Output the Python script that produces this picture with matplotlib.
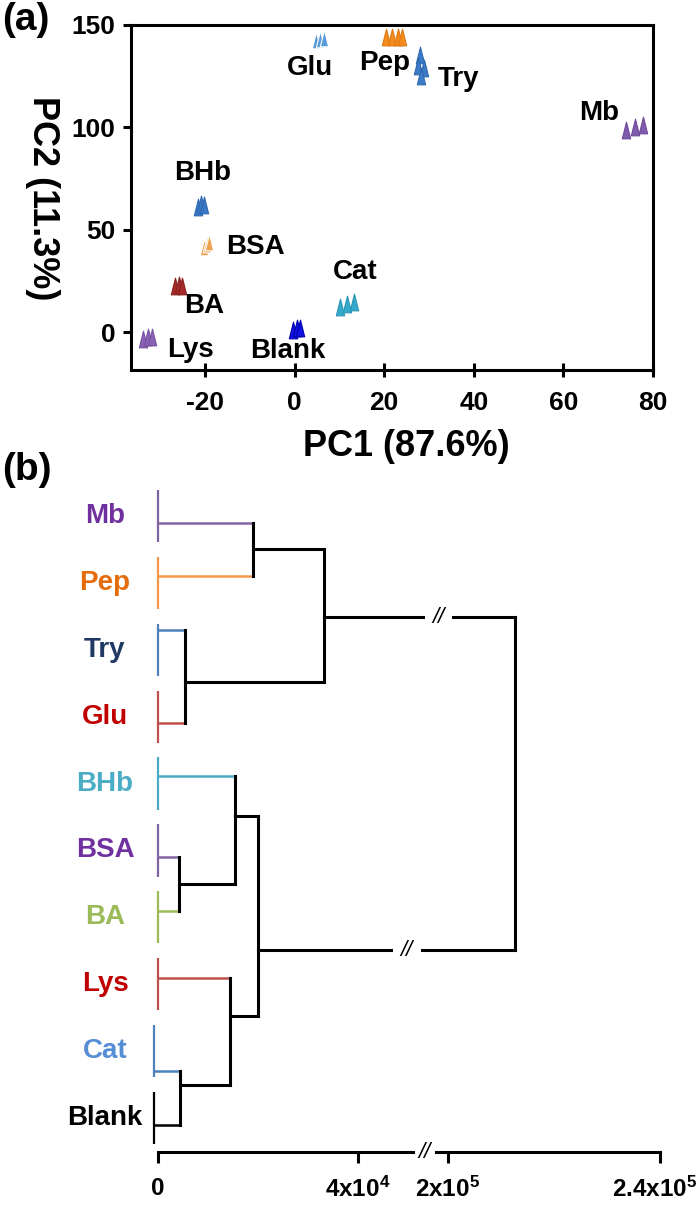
import matplotlib
matplotlib.use("Agg")
import matplotlib.pyplot as plt
import matplotlib.transforms as mtransforms
from matplotlib.path import Path

plt.rcParams['font.family'] = ['Liberation Sans', 'DejaVu Sans']
plt.rcParams['font.weight'] = 'bold'
plt.rcParams['mathtext.fontset'] = 'custom'
plt.rcParams['mathtext.rm'] = 'Liberation Sans:bold'
plt.rcParams['mathtext.bf'] = 'Liberation Sans:bold'
plt.rcParams['mathtext.default'] = 'bf'
plt.rcParams['axes.unicode_minus'] = False

# ---- (a) PCA scores, three replicates per protein
pca_groups = ['Glu', 'Pep', 'Try', 'Mb', 'BHb', 'BSA', 'BA', 'Lys', 'Blank', 'Cat']
pc1 = [[4.7, 5.6, 6.5],
       [20.5, 21.7, 23.0, 24.0],
       [28.0, 27.5, 28.8, 28.3],
       [74.0, 76.0, 77.8],
       [-21.5, -20.8, -20.2],
       [-20.3, -19.6, -19.0],
       [-26.6, -25.8, -25.2],
       [-33.8, -32.8, -31.8],
       [-0.3, 0.5, 1.3],
       [10.2, 11.8, 13.3]]
pc2 = [[142.5, 143.0, 143.5],
       [144.0, 144.0, 144.0, 144.0],
       [135.5, 130.0, 129.0, 125.0],
       [98.7, 100.2, 101.0],
       [61.0, 62.5, 62.0],
       [41.5, 43.0, 44.0],
       [22.5, 23.0, 22.5],
       [-3.2, -2.6, -2.4],
       [1.2, 1.8, 1.8],
       [12.2, 13.5, 14.7]]
pca_colors = ['#5b9bd5', '#f38b1f', '#3b7bc8', '#7f5aad', '#3a77c4',
              '#f0a050', '#a52a2a', '#8a62b5', '#1010e0', '#35aacc']
pca_edges = ['white', '#e07a10', '#2f6ab0', '#6e4a9a', '#2f6ab0',
             'white', '#8a2020', '#7652a0', '#0000b0', '#2a95b5']
label_x = [3.5, 20.0, 36.5, 68.0, -20.5, -8.7, -20.2, -23.2, -1.5, 13.6]
label_y = [129.0, 131.5, 123.7, 107.0, 77.5, 41.6, 13.0, -8.5, -9.0, 29.4]

# ---- (b) dendrogram
leaves = ['Mb', 'Pep', 'Try', 'Glu', 'BHb', 'BSA', 'BA', 'Lys', 'Cat', 'Blank']
leaf_text_colors = ['#7030a0', '#e46c0a', '#1f3864', '#c00000', '#4bacc6',
                    '#7030a0', '#9bbb59', '#c00000', '#558ed5', 'black']
leaf_line_colors = ['#8064a2', '#f79646', '#4f81bd', '#c0504d', '#4bacc6',
                    '#8064a2', '#9bbb59', '#c0504d', '#4f81bd', 'black']
leaf_attach = [0.10, 0.90, 1.70, 3.09, 3.89, 5.10, 5.90, 6.90, 8.30, 9.10]
leaf_x = [0, 0, 0, 0, 0, 0, 0, 0, -700, -800]
merge_left = ['Mb', 'Try', 'n0', 'BSA', 'BHb', 'Cat', 'Lys', 'n4', 'n2']
merge_right = ['Pep', 'Glu', 'n1', 'BA', 'n3', 'Blank', 'n5', 'n6', 'n7']
merge_height = [19100, 5450, 33260, 4300, 15400, 4500, 14420, 20070, 212600]
merge_y = [0.50, 2.48, 1.51, 5.50, 4.49, 8.51, 7.48, 6.49, 4.0]
dist_ticks = [0, 40000, 200000, 240000]
dist_labels = ['0', '4x10$^{4}$', '2x10$^{5}$', '2.4x10$^{5}$']
branch_breaks = {'n2': (53100, 59100), 'n7': (46700, 52800)}
axis_break = (51100, 55700)


def disp(v):
    # broken distance axis: values above 1e5 are shifted left
    if v <= 100000:
        return v
    return 58100 + (v - 200000) * 1.06


W, H = 700, 1205
fig = plt.figure(figsize=(7, 12.05), dpi=100)

# ---------------- (a)
ax = fig.add_axes([131 / W, 1 - 370 / H, (653 - 131) / W, 345 / H])
tri = Path([(-0.5, -1), (0.5, -1), (0, 1), (-0.5, -1)],
           [Path.MOVETO, Path.LINETO, Path.LINETO, Path.CLOSEPOLY])
for i, g in enumerate(pca_groups):
    ax.plot(pc1[i], pc2[i], linestyle='none', marker=tri, markersize=12,
            color=pca_colors[i], markeredgecolor=pca_edges[i],
            markeredgewidth=0.8)
    ax.text(label_x[i], label_y[i], g, ha='center', va='center',
            fontsize=20, fontweight='bold')
ax.set_xlim(-36.5, 80)
ax.set_ylim(-18.5, 150)
ax.set_xticks([-20, 0, 20, 40, 60, 80])
ax.set_yticks([0, 50, 100, 150])
for s in ax.spines.values():
    s.set_linewidth(2.2)
ax.tick_params(axis='x', direction='inout', length=10, width=2.2,
               labelsize=19, pad=10)
ax.tick_params(axis='y', direction='out', length=6, width=2.2,
               labelsize=19, pad=5)
fig.text(406 / W, 1 - 447 / H, 'PC1 (87.6%)', ha='center', va='center',
         fontsize=26, fontweight='bold')
fig.text(42 / W, 1 - 198 / H, 'PC2 (11.3%)', ha='center', va='center',
         fontsize=26, fontweight='bold', rotation=-90)
fig.text(2 / W, 1 - 2 / H, '(a)', ha='left', va='top', fontsize=28,
         fontweight='bold')
fig.text(2 / W, 1 - 452 / H, '(b)', ha='left', va='top', fontsize=28,
         fontweight='bold')

# ---------------- (b)
bx = fig.add_axes([60 / W, 1 - 1152 / H, 630 / W, 672 / H])
bx.set_xlim(-19500, 106500)
y_axis = 9.507
bx.set_ylim(y_axis, -0.538)
for s in bx.spines.values():
    s.set_visible(False)
bx.set_yticks([])

pos = {}
for i, name in enumerate(leaves):
    bx.plot([leaf_x[i], leaf_x[i]], [i - 0.39, i + 0.39],
            color=leaf_line_colors[i], lw=1.6, solid_capstyle='butt')
    bx.text(-10500, i, name, ha='center', va='center', fontsize=20,
            fontweight='bold', color=leaf_text_colors[i])
    pos[name] = (leaf_x[i], leaf_attach[i], leaf_line_colors[i])

for k in range(len(merge_left)):
    h = disp(merge_height[k])
    ys = []
    for child in (merge_left[k], merge_right[k]):
        cx, cy, col = pos[child]
        lw = 1.8 if child in leaves else 2.2
        if child in branch_breaks:
            g0, g1 = branch_breaks[child]
            bx.plot([cx, g0], [cy, cy], color=col, lw=lw)
            bx.plot([g1, h], [cy, cy], color=col, lw=lw)
            bx.text((g0 + g1) / 2, cy, '//', ha='center', va='center',
                    fontsize=16, fontweight='normal', style='italic')
        else:
            bx.plot([cx, h], [cy, cy], color=col, lw=lw)
        ys.append(cy)
    bx.plot([h, h], ys, color='black', lw=2.2)
    pos['n%d' % k] = (h, merge_y[k], 'black')

# broken distance axis
bx.plot([disp(0), axis_break[0]], [y_axis, y_axis], color='black', lw=2.2,
        clip_on=False)
bx.plot([axis_break[1], disp(dist_ticks[-1])], [y_axis, y_axis],
        color='black', lw=2.2, clip_on=False)
bx.text(sum(axis_break) / 2, y_axis, '//', ha='center', va='center',
        fontsize=16, fontweight='normal', style='italic')
bx.set_xticks([disp(t) for t in dist_ticks])
bx.set_xticklabels(dist_labels)
bx.tick_params(axis='x', direction='out', length=8, width=2.2,
               labelsize=17.5, pad=10)
# keep the last label inside the figure edge
last = bx.get_xticklabels()[-1]
last.set_transform(last.get_transform() +
                   mtransforms.ScaledTranslation(-5 / 100, 0, fig.dpi_scale_trans))

fig.savefig('out.png', dpi=100)
